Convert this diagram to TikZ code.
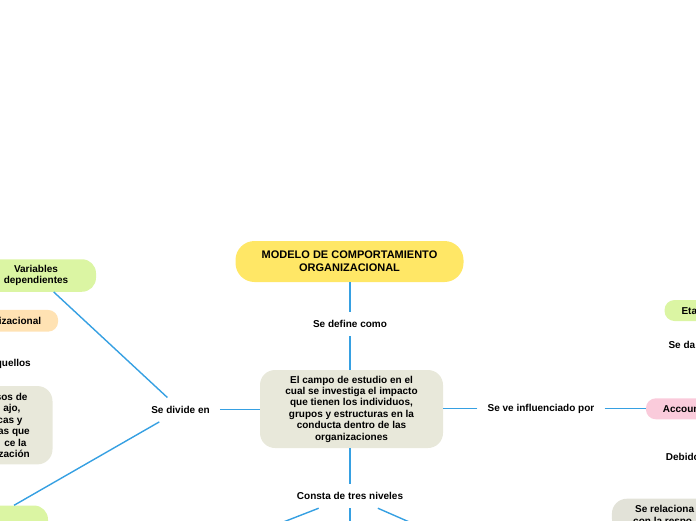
\documentclass[tikz,border=0pt]{standalone}
\usepackage{fontspec}
\setmainfont{Liberation Sans}
\definecolor{lineblue}{RGB}{54,160,226}
\definecolor{titleyellow}{RGB}{255,231,102}
\definecolor{cgray}{RGB}{232,232,218}
\definecolor{brgray}{RGB}{226,226,216}
\definecolor{greenfill}{RGB}{219,245,163}
\definecolor{peachfill}{RGB}{255,226,179}
\definecolor{pinkfill}{RGB}{250,203,219}
\begin{document}
\begin{tikzpicture}[x=1pt,y=-1pt,
  every node/.style={font=\fontsize{10}{11.4}\selectfont\bfseries, text=black},
  conn/.style={draw=lineblue, line width=1.4pt},
  lbl/.style={inner xsep=10pt, inner ysep=8.5pt, text height=7pt, text depth=0pt},
  pill/.style={rounded corners=10pt, minimum height=21pt, inner xsep=17pt, text height=7pt, text depth=0pt},
  plain/.style={inner sep=0pt, text height=7pt, text depth=0pt}]
\useasboundingbox (0,0) rectangle (696,520);
\clip (0,0) rectangle (696,520);

% main nodes
\node[fill=titleyellow, rounded corners=19pt, minimum width=228pt, minimum height=41pt, align=center,
      font=\fontsize{11}{13}\selectfont\bfseries] (title) at (349.5,261.5) {MODELO DE COMPORTAMIENTO\\ORGANIZACIONAL};
\node[fill=cgray, rounded corners=15pt, minimum width=183pt, minimum height=78pt, align=center] (central) at (351.5,409)
  {El campo de estudio en el\\cual se investiga el impacto\\que tienen los individuos,\\grupos y estructuras en la\\conducta dentro de las\\organizaciones};

% labels
\node[lbl] (def) at (350,324) {Se define como};
\node[lbl] (consta) at (350,496) {Consta de tres niveles};
\node[lbl] (divide) at (180.5,409.7) {Se divide en};
\node[lbl] (influ) at (541,408.3) {Se ve influenciado por};

% right side
\node[pill, fill=pinkfill, anchor=west] (acc) at (645.7,408.8) {Accoun};
\node[pill, fill=greenfill, anchor=west] (eta) at (664.3,310.5) {Eta};
\node[plain, anchor=west] (seda) at (668.3,345.3) {Se da};
\node[plain, anchor=west] (debido) at (665.7,457.3) {Debido};
\node[fill=brgray, rounded corners=15pt, anchor=north west, inner xsep=23.3pt, inner ysep=7pt, align=left] (relac) at (611.7,498.5) {Se relaciona\\\kern-2pt con la respo};

% left side
\node[fill=greenfill, rounded corners=14pt, minimum width=120pt, minimum height=32.5pt, align=center] (vars) at (36,275.5) {Variables\\dependientes};
\node[fill=greenfill, rounded corners=14pt, minimum width=126pt, minimum height=33pt] (indep) at (-15,522) {};
\node[pill, fill=peachfill, anchor=east, minimum height=21.7pt] (org) at (58.3,320.8) {izacional};
\node[plain, anchor=east] (aquellos) at (31,362.7) {quellos};
\node[fill=cgray, rounded corners=15pt, minimum width=200pt, minimum height=78.3pt, anchor=east] (lgray) at (52.7,425.2) {};
\node[anchor=east, inner sep=0pt, align=right] (lgtext) at (30,425.5)
  {sos de\kern2.3pt\\ajo,\kern9.3pt\\cas y\kern7.3pt\\as que\\ce la\kern3.3pt\\zación};

% free ends below the frame
\coordinate (lvlA) at (200,554.5);
\coordinate (lvlB) at (350,560);
\coordinate (lvlC) at (483.5,554.5);

% connectors
\draw[conn] (def) -- (def |- title.south);
\draw[conn] (def) -- (def |- central.north);
\draw[conn] (consta) -- (consta |- central.south);
\draw[conn] (divide) -- (divide -| central.west);
\draw[conn] (influ) -- (influ -| central.east);
\draw[conn] (influ) -- (influ -| acc.west);
\draw[conn] (divide) -- (vars);
\draw[conn] (divide) -- (indep);
\draw[conn] (consta) -- (lvlA);
\draw[conn] (consta) -- (lvlB);
\draw[conn] (consta) -- (lvlC);
\end{tikzpicture}
\end{document}
